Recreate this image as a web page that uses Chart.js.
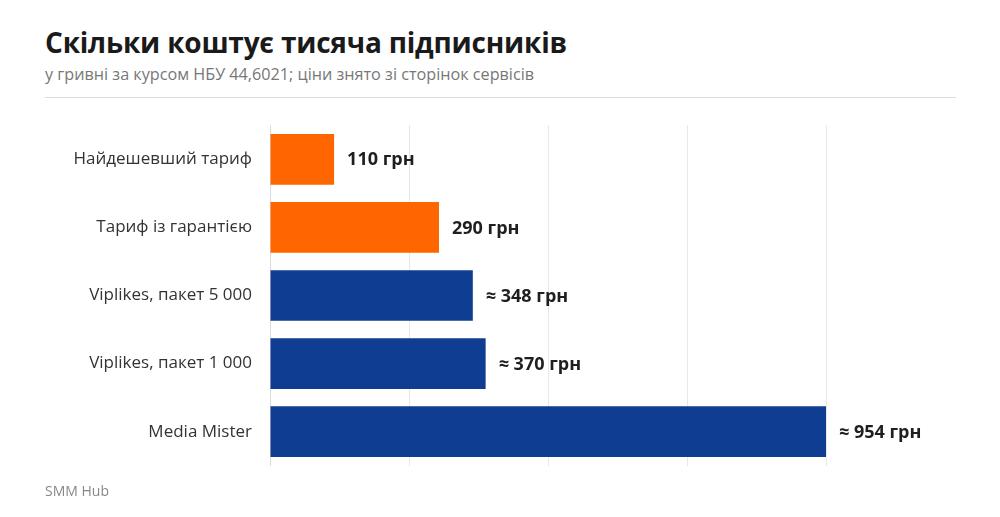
<!DOCTYPE html>
<html>
<head>
<meta charset="utf-8">
<title>Скільки коштує тисяча підписників</title>
<script src="https://cdn.jsdelivr.net/npm/chart.js@4"></script>
<style>
  body { margin: 0; background: #fff; font-family: "Open Sans", "Noto Sans", sans-serif; }
  #page { position: relative; width: 1000px; height: 517px; overflow: hidden; }
  h1 { position: absolute; left: 45px; top: 23px; margin: 0; font-size: 28px; font-weight: 700; color: #1a1a1a; letter-spacing: -0.2px; }
  .sub { position: absolute; left: 45px; top: 63px; font-size: 16.2px; color: #777; }
  .rule { position: absolute; left: 45px; top: 97px; width: 911px; height: 1px; background: #dcdcdc; }
  .src { position: absolute; left: 45px; top: 481px; font-size: 14px; color: #888; }
  #chart { position: absolute; left: 0; top: 97px; }
</style>
</head>
<body>
<div id="page">
  <h1>Скільки коштує тисяча підписників</h1>
  <div class="sub">у гривні за курсом НБУ 44,6021; ціни знято зі сторінок сервісів</div>
  <div class="rule"></div>
  <canvas id="chart" width="1000" height="397"></canvas>
  <div class="src">SMM Hub</div>
</div>
<script>
const categories = ['Найдешевший тариф', 'Тариф із гарантією', 'Viplikes, пакет 5 000', 'Viplikes, пакет 1 000', 'Media Mister'];
const prices = [110, 290, 348, 370, 954];
const approx = [false, false, true, true, true];
const barColors = ['#ff6600', '#ff6600', '#0e3d91', '#0e3d91', '#0e3d91'];

// підписи значень праворуч від смуг
const valueLabels = {
  id: 'valueLabels',
  afterDatasetsDraw(chart) {
    const ctx = chart.ctx;
    const meta = chart.getDatasetMeta(0);
    ctx.save();
    ctx.font = 'bold 18px "Open Sans", "Noto Sans", sans-serif';
    ctx.fillStyle = '#1f1f1f';
    ctx.textBaseline = 'middle';
    meta.data.forEach((bar, i) => {
      const txt = (approx[i] ? '≈ ' : '') + prices[i] + ' грн';
      ctx.fillText(txt, bar.x + 13, bar.y + 1);
    });
    ctx.restore();
  }
};

new Chart(document.getElementById('chart'), {
  type: 'bar',
  data: {
    labels: categories,
    datasets: [{
      data: prices,
      backgroundColor: barColors,
      barPercentage: 0.745,
      categoryPercentage: 1
    }]
  },
  options: {
    indexAxis: 'y',
    responsive: false,
    animation: false,
    layout: { padding: { top: 9, bottom: 4, left: 0, right: 174 } },
    plugins: { legend: { display: false }, tooltip: { enabled: false } },
    scales: {
      x: {
        min: 0,
        max: 954,
        ticks: { display: false, stepSize: 238.5 },
        grid: { color: '#e8e8e8', drawTicks: false },
        border: { display: false },
        afterFit(scale) { scale.height = 0; }
      },
      y: {
        grid: { display: false, drawTicks: false },
        border: { display: true, color: '#dcdcdc' },
        ticks: { color: '#333', padding: 18, font: { size: 17, family: '"Open Sans", "Noto Sans", sans-serif' } },
        afterFit(scale) { scale.width = 270; }
      }
    }
  },
  plugins: [valueLabels]
});
</script>
</body>
</html>
